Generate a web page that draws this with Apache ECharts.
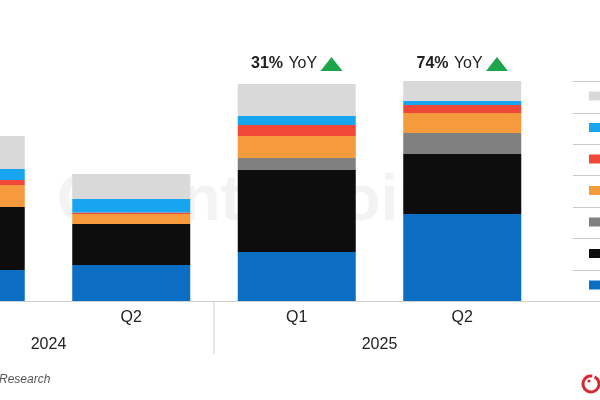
<!DOCTYPE html>
<html>
<head>
<meta charset="utf-8">
<script src="https://cdn.jsdelivr.net/npm/echarts@6/dist/echarts.min.js"></script>
<style>
html,body{margin:0;padding:0;background:#fff;overflow:hidden;width:600px;height:400px;position:relative;}
#chart{position:absolute;left:-117px;top:0;width:717px;height:400px;}
</style>
</head>
<body>
<div id="chart"></div>
<script>
// ---- data ----
var quarters = ["Q1", "Q2", "Q1", "Q2"];
var years = ["2024", "2025"];
var seriesNames = ["Brand A", "Brand B", "Brand C", "Brand D", "Brand E", "Brand F", "Others"];
var seriesColors = ["#0b6ec3", "#0d0d0d", "#808080", "#f59a3d", "#f1483a", "#18a5ef", "#d9d9d9"];
var brandA = [31, 36, 49, 87];
var brandB = [63, 41, 82, 60];
var brandC = [0, 0, 12, 21];
var brandD = [22, 10, 22, 20];
var brandE = [5, 1.5, 11, 8];
var brandF = [11, 13.5, 9, 4];
var others = [33, 25, 32, 20];
var yoyLabels = [null, null, "31%", "74%"];
var seriesValues = [brandA, brandB, brandC, brandD, brandE, brandF, others];

var OX = 117; // chart canvas is shifted left by this many px (the first bar is cropped)
var tri = 'data:image/svg+xml;charset=utf-8,' + encodeURIComponent('<svg xmlns="http://www.w3.org/2000/svg" width="22" height="14"><polygon points="11,0 22,14 0,14" fill="#1ca64b"/></svg>');

var chart = echarts.init(document.getElementById('chart'));
var FONT = 'Liberation Sans, Arial, sans-serif';

var series = seriesValues.map(function (vals, i) {
  var isTop = i === seriesValues.length - 1;
  return {
    name: seriesNames[i],
    type: 'bar',
    stack: 'total',
    barCategoryGap: '28.7%',
    itemStyle: { color: seriesColors[i] },
    emphasis: { disabled: true },
    data: vals.map(function (v, j) {
      var d = { value: v };
      if (isTop && yoyLabels[j]) {
        d.label = {
          show: true,
          position: 'top',
          distance: j === 2 ? 12 : 9,
          formatter: '{p|' + yoyLabels[j] + '} {y|YoY} {t| }',
          rich: {
            p: { fontFamily: FONT, fontWeight: 'bold', fontSize: 16, color: '#222', padding: [0, 2, 0, 0] },
            y: { fontFamily: FONT, fontSize: 16, color: '#222' },
            t: { width: 22, height: 14, backgroundColor: { image: tri } }
          }
        };
      }
      return d;
    })
  };
});

var rowLines = [81, 113, 144, 175, 207, 238, 270].map(function (y) {
  return { type: 'line', shape: { x1: OX + 573, y1: y + 0.5, x2: OX + 600, y2: y + 0.5 }, style: { stroke: '#c8c8c8', lineWidth: 1 } };
});

chart.setOption({
  animation: false,
  backgroundColor: '#fff',
  grid: { left: 0, right: 55, top: 51, bottom: 99, containLabel: false },
  xAxis: [
    {
      type: 'category',
      data: quarters,
      axisLine: { show: true, lineStyle: { color: '#cfcfcf', width: 1 } },
      axisTick: { show: false },
      axisLabel: { fontFamily: FONT, fontSize: 16, color: '#222', margin: 9 }
    },
    {
      type: 'category',
      data: years,
      position: 'bottom',
      offset: 27,
      axisLine: { show: false },
      axisTick: { show: false },
      axisLabel: { fontFamily: FONT, fontSize: 16, color: '#222', margin: 9 }
    }
  ],
  yAxis: { type: 'value', min: 0, max: 250, show: false, splitLine: { show: false } },
  legend: {
    orient: 'vertical',
    left: OX + 589,
    top: 91.5,
    padding: 0,
    itemWidth: 11,
    itemHeight: 9,
    itemGap: 22.5,
    icon: 'rect',
    data: seriesNames.slice().reverse(),
    textStyle: { fontSize: 9, lineHeight: 9, color: '#222', fontFamily: FONT },
    selectedMode: false
  },
  graphic: [
    { type: 'text', z: -10, left: OX + 57, top: 170, style: { text: 'Counterpoint', fontSize: 64, fontWeight: 'bold', fontFamily: FONT, fill: '#f3f3f3' } },
    { type: 'line', shape: { x1: OX + 540, y1: 301.5, x2: OX + 600, y2: 301.5 }, style: { stroke: '#cfcfcf', lineWidth: 1 } },
    { type: 'line', shape: { x1: OX + 214, y1: 302, x2: OX + 214, y2: 354 }, style: { stroke: '#cfcfcf', lineWidth: 1 } },
    { type: 'text', left: OX - 1, top: 374, style: { text: 'Research', fontSize: 12, fontStyle: 'italic', fontFamily: FONT, fill: '#555' } },
    { type: 'arc', shape: { cx: OX + 591, cy: 384, r: 8, startAngle: -Math.PI * 0.35, endAngle: Math.PI * 1.55, clockwise: true }, style: { stroke: '#d62a33', lineWidth: 3, fill: 'none' } },
    { type: 'circle', shape: { cx: OX + 589, cy: 381, r: 1.6 }, style: { fill: '#d62a33' } }
  ].concat(rowLines),
  series: series
});
</script>
</body>
</html>
